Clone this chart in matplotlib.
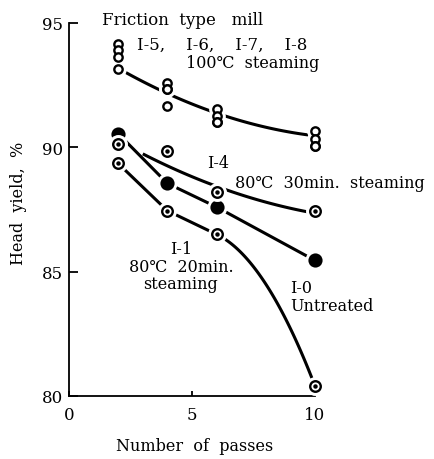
import numpy as np
import matplotlib
matplotlib.use("Agg")
import matplotlib.pyplot as plt

plt.rcParams['font.family'] = ['DejaVu Serif', 'Liberation Serif']

# number of passes through the mill
passes = [2, 4, 6, 10]

# I-5 .. I-8, 100C steaming (open circles)
i5 = [94.15, 92.60, 91.55, 90.65]
i6 = [93.90, 92.35, 91.25, 90.35]
i7 = [93.65, 92.35, 91.00, 90.05]
i8 = [93.15, 91.65, 91.00, 90.05]
# I-4, 80C 30min steaming
i4 = [90.15, 89.85, 88.20, 87.45]
# I-0, untreated
i0 = [90.55, 88.55, 87.60, 85.45]
# I-1, 80C 20min steaming
i1 = [89.35, 87.45, 86.50, 80.40]

# hand drawn trend curves
top_curve_x = [2.3, 3.7, 5.7, 6.5, 9.8]
top_curve_y = [93.15, 92.05, 91.50, 91.35, 90.45]
i4_curve_x = [3.0, 5.7, 6.5, 9.5]
i4_curve_y = [89.73, 88.60, 88.20, 87.45]
i1_tail_x = [6, 8, 10]
i1_tail_y = [86.50, 84.50, 80.40]

LW = 2.2


def curve(ax, cx, cy, x0, x1):
    p = np.polyfit(cx, cy, 2)
    xs = np.linspace(x0, x1, 100)
    ax.plot(xs, np.polyval(p, xs), color='black', lw=LW, zorder=2,
            solid_capstyle='butt', clip_on=False)


def marks(ax, x, y, kind, z=4):
    if kind == 'open':
        ms, face = 6.0, 'white'
    elif kind == 'filled':
        ms, face = 8.5, 'black'
    else:
        ms, face = 7.6, 'white'
    ax.plot(x, y, ls='none', marker='o', ms=ms + 5, mfc='white',
            mec='white', zorder=z - 1, clip_on=False)
    ax.plot(x, y, ls='none', marker='o', ms=ms, mfc=face, mec='black',
            mew=1.7, zorder=z, clip_on=False)
    if kind == 'dot':
        ax.plot(x, y, ls='none', marker='o', ms=2.2, color='black',
                zorder=z + 0.1, clip_on=False)


fig = plt.figure(figsize=(4.35, 4.6), dpi=100)
ax = fig.add_axes([69 / 435, 1 - 397 / 460, 246 / 435, 373 / 460])

# lines
curve(ax, top_curve_x, top_curve_y, 2.0, 10.0)
curve(ax, i4_curve_x, i4_curve_y, 3.0, 9.8)
ax.plot(passes, i0, color='black', lw=LW, zorder=2)
ax.plot(passes[:3], i1[:3], color='black', lw=LW, zorder=2)
curve(ax, i1_tail_x, i1_tail_y, 6.0, 10.0)

# markers
for s in (i5, i6, i7, i8):
    marks(ax, passes, s, 'open', z=4)
marks(ax, passes, i0, 'filled', z=6)
marks(ax, passes, i1, 'dot', z=6)
marks(ax, passes, i4, 'dot', z=8)

ax.set_xlim(0, 10)
ax.set_ylim(80, 95)
ax.set_xticks([0, 5, 10])
ax.set_yticks([80, 85, 90, 95])
ax.spines['top'].set_visible(False)
ax.spines['right'].set_visible(False)
ax.spines['left'].set_linewidth(1.3)
ax.spines['bottom'].set_linewidth(1.3)
ax.tick_params(axis='y', direction='in', length=6.5, width=1.3, pad=4,
               labelsize=12)
ax.tick_params(axis='x', direction='in', length=3.5, width=1.3, pad=7,
               labelsize=12)

ax.set_ylabel('Head  yield,  %', fontsize=11.5)
ax.yaxis.set_label_coords(-0.17, 0.52)
ax.set_xlabel('Number  of  passes', fontsize=11.5)
ax.xaxis.set_label_coords(0.512, -0.11)

fs = 11.5
ax.text(1.35, 95.15, 'Friction  type   mill', fontsize=12, va='center')
ax.text(2.76, 94.16, 'I-5,    I-6,    I-7,    I-8', fontsize=12,
        va='center')
ax.text(4.76, 93.43, '100℃  steaming', fontsize=fs, va='center')
ax.text(5.6, 89.4, 'I-4', fontsize=fs, va='center')
ax.text(6.75, 88.6, '80℃  30min.  steaming', fontsize=fs, va='center')
ax.text(4.55, 85.22, 'I-1\n80℃  20min.\nsteaming', fontsize=fs,
        ha='center', va='center', linespacing=1.05)
ax.text(8.98, 84.0, 'I-0\nUntreated', fontsize=fs, ha='left', va='center',
        linespacing=1.05)

fig.savefig('out.png', dpi=100)
